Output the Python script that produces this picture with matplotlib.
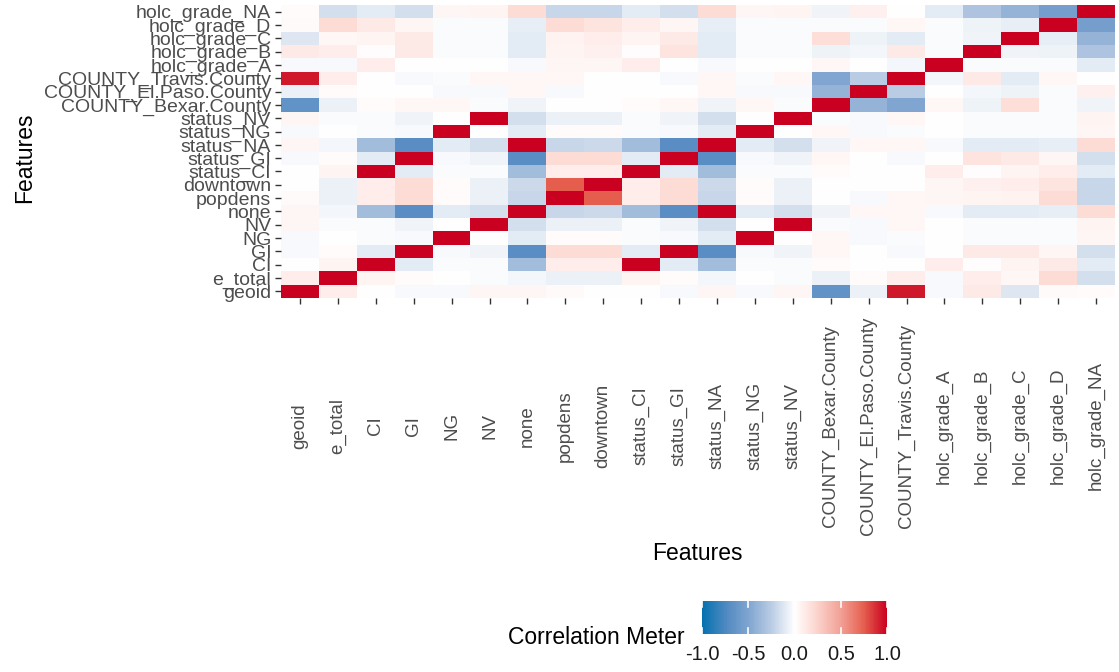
import numpy as np
import matplotlib.pyplot as plt
from matplotlib.colors import LinearSegmentedColormap

plt.rcParams['font.family'] = ['Liberation Sans', 'DejaVu Sans']

features = ['geoid', 'e_total', 'CI', 'GI', 'NG', 'NV', 'none', 'popdens', 'downtown',
            'status_CI', 'status_GI', 'status_NA', 'status_NG', 'status_NV',
            'COUNTY_Bexar.County', 'COUNTY_El.Paso.County', 'COUNTY_Travis.County',
            'holc_grade_A', 'holc_grade_B', 'holc_grade_C', 'holc_grade_D', 'holc_grade_NA']

# correlation matrix, rows/cols in the order of `features`
corr = np.array([
    [1, 0.1, 0.0, -0.03, -0.03, 0.05, 0.05, 0.03, 0.0, 0.0, -0.03, 0.05, -0.03, 0.05, -0.65, -0.07, 0.93, -0.03, 0.12, -0.12, 0.03, 0.02],
    [0.1, 1, 0.06, 0.02, 0.0, -0.02, -0.04, -0.07, -0.07, 0.06, 0.02, -0.04, 0.0, -0.02, -0.07, 0.02, 0.1, -0.03, 0.1, 0.04, 0.2, -0.15],
    [0.0, 0.06, 1, -0.1, -0.02, -0.02, -0.35, 0.1, 0.1, 1.0, -0.1, -0.35, -0.02, -0.02, 0.02, 0.0, 0.0, 0.1, 0.01, 0.06, 0.12, -0.1],
    [-0.03, 0.02, -0.1, 1, -0.03, -0.05, -0.7, 0.2, 0.2, -0.1, 1.0, -0.7, -0.03, -0.05, 0.04, 0.0, -0.03, 0.0, 0.12, 0.12, 0.05, -0.15],
    [-0.03, 0.0, -0.02, -0.03, 1, 0.0, -0.1, 0.02, 0.02, -0.02, -0.03, -0.1, 1.0, 0.0, 0.04, -0.03, -0.02, 0.0, -0.02, -0.02, -0.02, 0.05],
    [0.05, -0.02, -0.02, -0.05, 0.0, 1, -0.15, -0.07, -0.07, -0.02, -0.05, -0.15, 0.0, 1.0, -0.02, -0.03, 0.04, 0.0, -0.02, -0.02, -0.02, 0.06],
    [0.05, -0.04, -0.35, -0.7, -0.1, -0.15, 1, -0.2, -0.18, -0.35, -0.7, 1.0, -0.1, -0.15, -0.05, 0.04, 0.04, -0.03, -0.1, -0.1, -0.08, 0.2],
    [0.03, -0.07, 0.1, 0.2, 0.02, -0.07, -0.2, 1, 0.75, 0.1, 0.2, -0.2, 0.02, -0.07, 0.0, -0.03, 0.04, 0.05, 0.06, 0.07, 0.2, -0.2],
    [0.0, -0.07, 0.1, 0.2, 0.02, -0.07, -0.18, 0.75, 1, 0.1, 0.2, -0.18, 0.02, -0.07, 0.0, 0.0, 0.0, 0.05, 0.08, 0.1, 0.15, -0.2],
    [0.0, 0.06, 1.0, -0.1, -0.02, -0.02, -0.35, 0.1, 0.1, 1, -0.1, -0.35, -0.02, -0.02, 0.02, 0.0, 0.0, 0.1, 0.01, 0.06, 0.1, -0.1],
    [-0.03, 0.02, -0.1, 1.0, -0.03, -0.05, -0.7, 0.2, 0.2, -0.1, 1, -0.7, -0.03, -0.05, 0.04, 0.0, -0.03, 0.0, 0.15, 0.12, 0.05, -0.15],
    [0.05, -0.04, -0.35, -0.7, -0.1, -0.15, 1.0, -0.2, -0.18, -0.35, -0.7, 1, -0.1, -0.15, -0.05, 0.04, 0.04, -0.03, -0.1, -0.1, -0.08, 0.2],
    [-0.03, 0.0, -0.02, -0.03, 1.0, 0.0, -0.1, 0.02, 0.02, -0.02, -0.03, -0.1, 1, 0.0, 0.04, -0.03, -0.02, 0.0, -0.02, -0.02, -0.02, 0.05],
    [0.05, -0.02, -0.02, -0.05, 0.0, 1.0, -0.15, -0.07, -0.07, -0.02, -0.05, -0.15, 0.0, 1, -0.02, -0.03, 0.04, 0.0, -0.02, -0.02, -0.02, 0.06],
    [-0.65, -0.07, 0.02, 0.04, 0.04, -0.02, -0.05, 0.0, 0.0, 0.02, 0.04, -0.05, 0.04, -0.02, 1, -0.4, -0.5, 0.04, -0.06, 0.18, -0.02, -0.05],
    [-0.07, 0.02, 0.0, 0.0, -0.03, -0.03, 0.04, -0.03, 0.0, 0.0, 0.0, 0.04, -0.03, -0.03, -0.4, 1, -0.25, 0.0, -0.04, -0.06, -0.02, 0.08],
    [0.93, 0.1, 0.0, -0.03, -0.02, 0.04, 0.04, 0.04, 0.0, 0.0, -0.03, 0.04, -0.02, 0.04, -0.5, -0.25, 1, -0.04, 0.12, -0.1, 0.04, 0.0],
    [-0.03, -0.03, 0.1, 0.0, 0.0, 0.0, -0.03, 0.05, 0.05, 0.1, 0.0, -0.03, 0.0, 0.0, 0.04, 0.0, -0.04, 1, -0.02, -0.02, -0.02, -0.1],
    [0.12, 0.1, 0.01, 0.12, -0.02, -0.02, -0.1, 0.06, 0.08, 0.01, 0.15, -0.1, -0.02, -0.02, -0.06, -0.04, 0.12, -0.02, 1, -0.05, -0.06, -0.3],
    [-0.12, 0.04, 0.06, 0.12, -0.02, -0.02, -0.1, 0.07, 0.1, 0.06, 0.12, -0.1, -0.02, -0.02, 0.18, -0.06, -0.1, -0.02, -0.05, 1, -0.08, -0.4],
    [0.03, 0.2, 0.12, 0.05, -0.02, -0.02, -0.08, 0.2, 0.15, 0.1, 0.05, -0.08, -0.02, -0.02, -0.02, -0.02, 0.04, -0.02, -0.06, -0.08, 1, -0.55],
    [0.02, -0.15, -0.1, -0.15, 0.05, 0.06, 0.2, -0.2, -0.2, -0.1, -0.15, 0.2, 0.05, 0.06, -0.05, 0.08, 0.0, -0.1, -0.3, -0.4, -0.55, 1],
])

# blue - white - red, roughly like ggplot's gradient2
cmap = LinearSegmentedColormap.from_list('meter', [
    (0.0, '#0571B0'), (0.15, '#5A8EC4'), (0.25, '#7FA5D0'), (0.375, '#BACCE4'),
    (0.5, '#FFFFFF'), (0.6, '#FDDCD6'), (0.75, '#F2A196'), (0.875, '#E5604F'), (1.0, '#CA0020')])

fig = plt.figure(figsize=(11.19, 6.72), dpi=100)
ax = fig.add_axes([281 / 1119, 1 - 298 / 672, 834 / 1119, 293 / 672])

n = len(features)
im = ax.imshow(corr, cmap=cmap, vmin=-1, vmax=1, origin='lower', aspect='auto',
               interpolation='nearest', extent=(-0.5, n - 0.5, -0.5, n - 0.5))

ax.set_xticks(range(n))
ax.set_yticks(range(n))
ax.set_xticklabels(features, rotation=90, fontsize=13.5, color='#4D4D4D', va='center')
ax.set_yticklabels(features, fontsize=14, color='#4D4D4D')
ax.tick_params(length=4, width=1, color='#333333')
ax.tick_params(axis='x', pad=88)
ax.tick_params(axis='y', pad=3)
for s in ax.spines.values():
    s.set_visible(False)

fig.text(697 / 1119, 1 - 553 / 672, 'Features', fontsize=16.5, ha='center', va='center')
fig.text(25 / 1119, 1 - 158 / 672, 'Features', fontsize=16.5, ha='center', va='center',
         rotation=90)

# legend
cax = fig.add_axes([702 / 1119, 1 - 634 / 672, 185 / 1119, 33 / 672])
cb = fig.colorbar(im, cax=cax, orientation='horizontal', ticks=[-1, -0.5, 0, 0.5, 1])
cb.outline.set_visible(False)
cb.ax.set_xticklabels(['-1.0', '-0.5', '0.0', '0.5', '1.0'], fontsize=14.5, color='#1A1A1A')
cb.ax.tick_params(length=0, pad=8)
for v in [-1, -0.5, 0, 0.5, 1]:
    cax.plot([v, v], [0, 0.18], color='white', lw=1.2)
    cax.plot([v, v], [0.82, 1], color='white', lw=1.2)
fig.text(508 / 1119, 1 - 638 / 672, 'Correlation Meter', fontsize=16.5, va='center', ha='left')

fig.savefig('out.png', dpi=100)
